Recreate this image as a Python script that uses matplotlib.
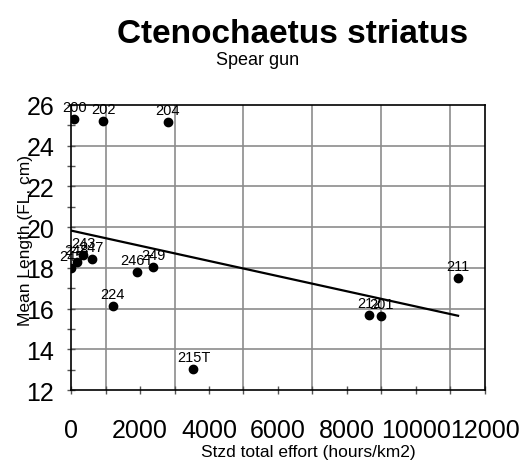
import matplotlib
matplotlib.use("Agg")
import matplotlib.pyplot as plt
import numpy as np

plt.rcParams['font.family'] = ['Liberation Sans', 'DejaVu Sans']

# sites, standardised effort and mean length
sites = ["200", "202", "204", "245", "248", "243", "247", "246T", "249",
         "224", "215T", "212", "201", "211"]
effort = [100, 940, 2800, 0, 170, 355, 600, 1920, 2390,
          1210, 3550, 8640, 9000, 11220]
length = [25.3, 25.2, 25.18, 17.99, 18.29, 18.63, 18.43, 17.81, 18.06,
          16.14, 13.03, 15.69, 15.65, 17.5]

# trend line end points
trend_x = [0, 11220]
trend_y = [19.83, 15.65]

fig = plt.figure(figsize=(5.26, 4.64), dpi=100)
ax = fig.add_axes([0.135, 0.157, 0.787, 0.615])

ax.set_xlim(0, 12000)
ax.set_ylim(12, 26)

# grid lines sit at odd thousands on x and even values on y
for gx in range(1000, 12000, 2000):
    ax.axvline(gx, color='#8c8c8c', lw=1.2, zorder=0)
for gy in range(14, 26, 2):
    ax.axhline(gy, color='#8c8c8c', lw=1.2, zorder=0)

ax.plot(trend_x, trend_y, color='black', lw=1.6, zorder=2)
ax.scatter(effort, length, s=36, color='black', zorder=3)
for s, x, y in zip(sites, effort, length):
    ax.annotate(s, (x, y), xytext=(0, 3.5), textcoords='offset points',
                ha='center', va='bottom', fontsize=10.5)

ax.set_xticks(range(0, 12001, 2000))
ax.set_xticks(range(1000, 12000, 2000), minor=True)
ax.set_yticks(range(12, 27, 2))
ax.set_yticks(range(13, 26, 2), minor=True)
ax.tick_params(axis='both', which='both', direction='inout', length=6,
               width=1, color='#555555')
ax.tick_params(axis='x', which='major', labelsize=18, pad=17)
ax.tick_params(axis='y', which='major', labelsize=18, pad=9)

for sp in ax.spines.values():
    sp.set_color('black')
    sp.set_linewidth(1.2)

fig.text(0.557, 0.925, "Ctenochaetus striatus", ha='center', va='center',
         fontsize=24, fontweight='bold')
fig.text(0.489, 0.869, "Spear gun", ha='center', va='center', fontsize=13)
fig.text(0.587, 0.024, "Stzd total effort (hours/km2)", ha='center',
         va='center', fontsize=12.5)
fig.text(0.048, 0.481, "Mean Length (FL, cm)", ha='center', va='center',
         rotation=90, fontsize=12.5)

fig.savefig("out.png", dpi=100)
